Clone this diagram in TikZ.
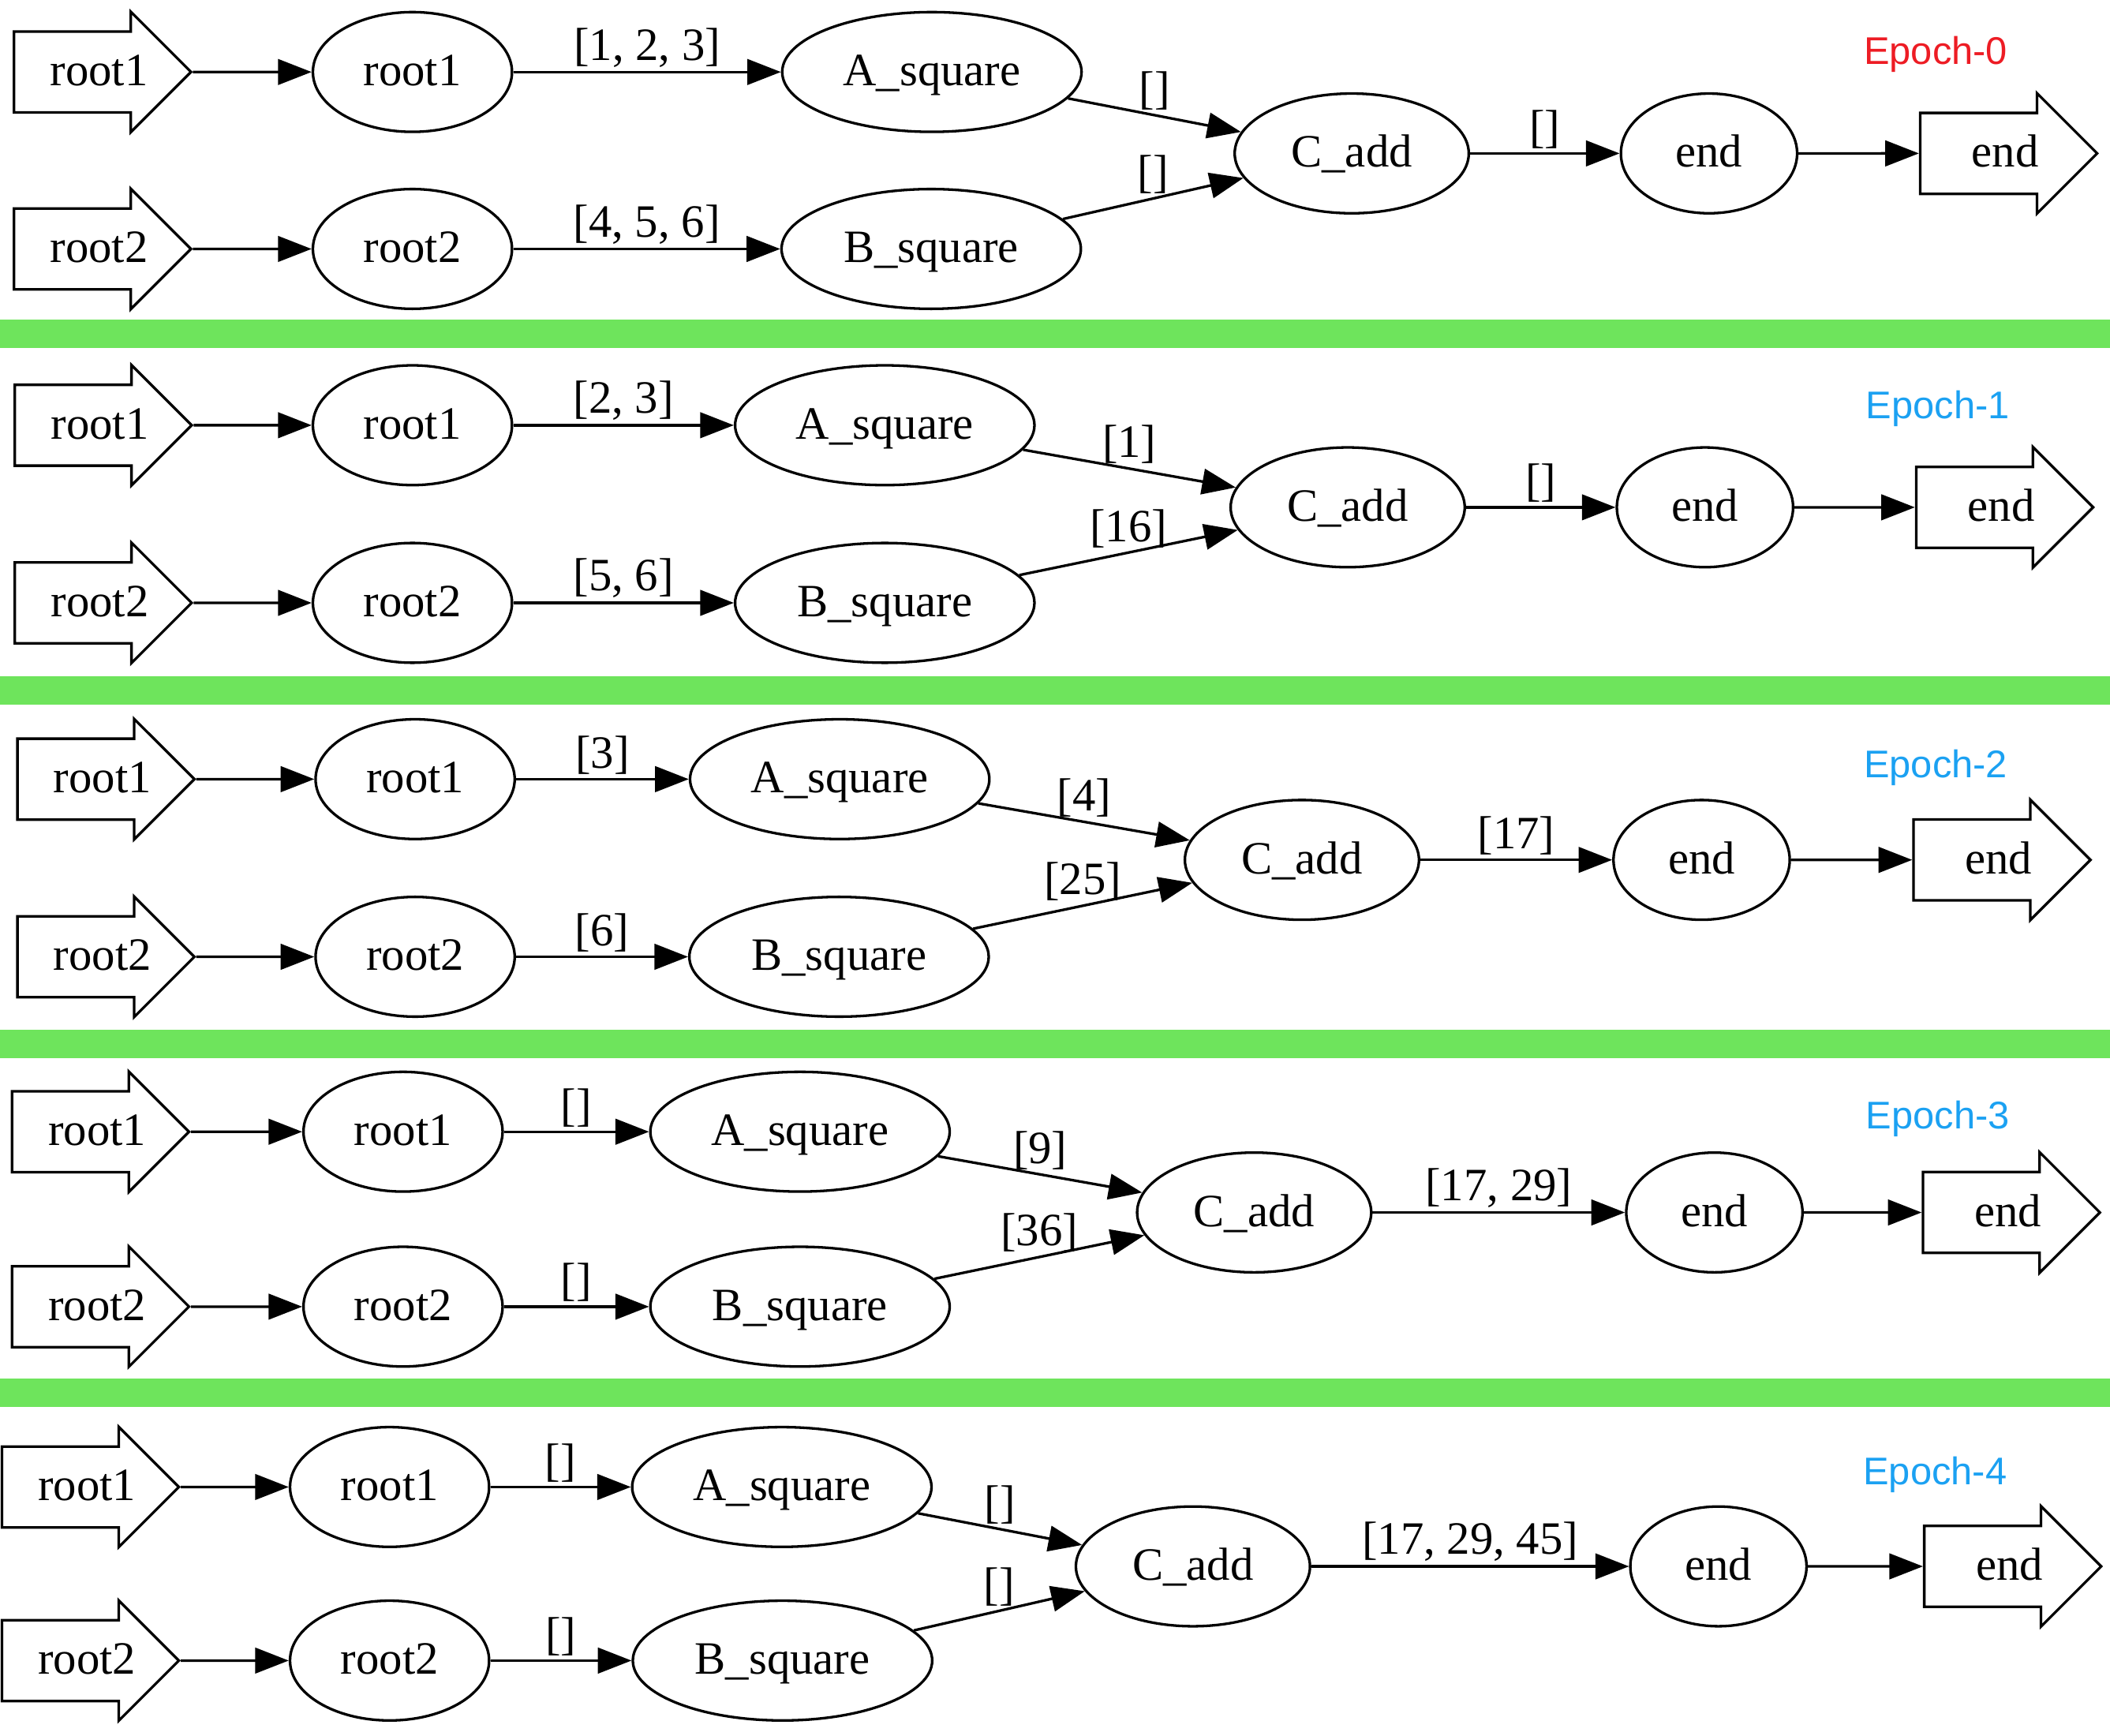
\documentclass[tikz,border=0pt]{standalone}
\usepackage{fontspec}
\setmainfont{Liberation Serif}
\newfontfamily\epochfont{Liberation Sans}
\usetikzlibrary{shapes.geometric}
\usetikzlibrary{shapes.arrows}
\usetikzlibrary{arrows.meta}
\definecolor{sepgreen}{RGB}{110,228,92}
\definecolor{epochred}{RGB}{237,28,36}
\definecolor{epochblue}{RGB}{27,161,242}
\newcommand{\graphfont}{\fontsize{19.6}{23}\selectfont}
\newcommand{\epochsize}{\fontsize{16.3}{19}\selectfont}

\begin{document}
\begin{tikzpicture}[x=0.02cm, y=-0.02cm,
    inout/.style={draw, single arrow, single arrow head extend=0.178cm, minimum height=2.63cm, minimum width=1.79cm, inner sep=0pt, anchor=tail, line width=1.1pt, font=\graphfont, text height=0.55cm, text depth=0.14cm, execute at begin node={\hspace*{0.5cm}}},
    op/.style={draw, ellipse, inner sep=0pt, minimum height=1.78cm, line width=1.1pt, font=\graphfont, text height=0.55cm, text depth=0.14cm},
    rootop/.style={op, minimum width=2.96cm},
    sqop/.style={op, minimum width=4.45cm},
    addop/.style={op, minimum width=3.48cm},
    endop/.style={op, minimum width=2.62cm},
    flow/.style={-{Triangle[length=0.5cm,width=0.38cm]}, line width=1.1pt},
    lbl/.style={above, inner sep=1.5pt, font=\graphfont},
    epoch/.style={anchor=base, inner sep=0pt, font=\epochfont\epochsize},
    sep/.style={draw=sepgreen, line width=0.42cm}]
            \useasboundingbox (0,0) rectangle (1568,1290);
            % green separators between the epochs
            \draw[sep] (0,248) -- (1568,248);
            \draw[sep] (0,513) -- (1568,513);
            \draw[sep] (0,776) -- (1568,776);
            \draw[sep] (0,1035) -- (1568,1035);

            % Epoch 0
            \node[inout] (in1-0) at (9.5,53.5) {root1};
            \node[inout] (in2-0) at (9.5,185) {root2};
            \node[rootop] (root1-0) at (306.5,53.5) {root1};
            \node[rootop] (root2-0) at (306.5,185) {root2};
            \node[sqop] (asq-0) at (692.5,53.5) {A\_square};
            \node[sqop] (bsq-0) at (692,185) {B\_square};
            \node[addop] (cadd-0) at (1004.5,114) {C\_add};
            \node[endop] (end-0) at (1270,114) {end};
            \node[inout] (out-0) at (1426,114) {end};
            \node[epoch, text=epochred] (ep-0) at (1438.5,48) {Epoch-0};
            \draw[flow] (in1-0) -- (root1-0);
            \draw[flow] (in2-0) -- (root2-0);
            \draw[flow] (root1-0) -- node[lbl] {[1, 2, 3]} (asq-0);
            \draw[flow] (root2-0) -- node[lbl] {[4, 5, 6]} (bsq-0);
            \draw[flow] (asq-0) -- node[lbl] {[]} (cadd-0);
            \draw[flow] (bsq-0) -- node[lbl] {[]} (cadd-0);
            \draw[flow] (cadd-0) -- node[lbl] {[]} (end-0);
            \draw[flow] (end-0) -- (out-0);

            % Epoch 1
            \node[inout] (in1-1) at (10,316) {root1};
            \node[inout] (in2-1) at (10,448) {root2};
            \node[rootop] (root1-1) at (306.5,316) {root1};
            \node[rootop] (root2-1) at (306.5,448) {root2};
            \node[sqop] (asq-1) at (657.5,316) {A\_square};
            \node[sqop] (bsq-1) at (657.5,448) {B\_square};
            \node[addop] (cadd-1) at (1001.5,377) {C\_add};
            \node[endop] (end-1) at (1267,377) {end};
            \node[inout] (out-1) at (1423,377) {end};
            \node[epoch, text=epochblue] (ep-1) at (1440,311) {Epoch-1};
            \draw[flow] (in1-1) -- (root1-1);
            \draw[flow] (in2-1) -- (root2-1);
            \draw[flow] (root1-1) -- node[lbl] {[2, 3]} (asq-1);
            \draw[flow] (root2-1) -- node[lbl] {[5, 6]} (bsq-1);
            \draw[flow] (asq-1) -- node[lbl] {[1]} (cadd-1);
            \draw[flow] (bsq-1) -- node[lbl] {[16]} (cadd-1);
            \draw[flow] (cadd-1) -- node[lbl] {[]} (end-1);
            \draw[flow] (end-1) -- (out-1);

            % Epoch 2
            \node[inout] (in1-2) at (12,579) {root1};
            \node[inout] (in2-2) at (12,711) {root2};
            \node[rootop] (root1-2) at (308.5,579) {root1};
            \node[rootop] (root2-2) at (308.5,711) {root2};
            \node[sqop] (asq-2) at (624,579) {A\_square};
            \node[sqop] (bsq-2) at (623.5,711) {B\_square};
            \node[addop] (cadd-2) at (967.5,639) {C\_add};
            \node[endop] (end-2) at (1264.5,639) {end};
            \node[inout] (out-2) at (1421,639) {end};
            \node[epoch, text=epochblue] (ep-2) at (1438.5,578) {Epoch-2};
            \draw[flow] (in1-2) -- (root1-2);
            \draw[flow] (in2-2) -- (root2-2);
            \draw[flow] (root1-2) -- node[lbl] {[3]} (asq-2);
            \draw[flow] (root2-2) -- node[lbl] {[6]} (bsq-2);
            \draw[flow] (asq-2) -- node[lbl] {[4]} (cadd-2);
            \draw[flow] (bsq-2) -- node[lbl] {[25]} (cadd-2);
            \draw[flow] (cadd-2) -- node[lbl] {[17]} (end-2);
            \draw[flow] (end-2) -- (out-2);

            % Epoch 3
            \node[inout] (in1-3) at (8,841) {root1};
            \node[inout] (in2-3) at (8,971) {root2};
            \node[rootop] (root1-3) at (299.5,841) {root1};
            \node[rootop] (root2-3) at (299.5,971) {root2};
            \node[sqop] (asq-3) at (594.5,841) {A\_square};
            \node[sqop] (bsq-3) at (594.5,971) {B\_square};
            \node[addop] (cadd-3) at (932,901) {C\_add};
            \node[endop] (end-3) at (1274,901) {end};
            \node[inout] (out-3) at (1428,901) {end};
            \node[epoch, text=epochblue] (ep-3) at (1440,839) {Epoch-3};
            \draw[flow] (in1-3) -- (root1-3);
            \draw[flow] (in2-3) -- (root2-3);
            \draw[flow] (root1-3) -- node[lbl] {[]} (asq-3);
            \draw[flow] (root2-3) -- node[lbl] {[]} (bsq-3);
            \draw[flow] (asq-3) -- node[lbl] {[9]} (cadd-3);
            \draw[flow] (bsq-3) -- node[lbl] {[36]} (cadd-3);
            \draw[flow] (cadd-3) -- node[lbl] {[17, 29]} (end-3);
            \draw[flow] (end-3) -- (out-3);

            % Epoch 4
            \node[inout] (in1-4) at (0.5,1105) {root1};
            \node[inout] (in2-4) at (0.5,1234) {root2};
            \node[rootop] (root1-4) at (289.5,1105) {root1};
            \node[rootop] (root2-4) at (289.5,1234) {root2};
            \node[sqop] (asq-4) at (581,1105) {A\_square};
            \node[sqop] (bsq-4) at (581.5,1234) {B\_square};
            \node[addop] (cadd-4) at (886.5,1164) {C\_add};
            \node[endop] (end-4) at (1277,1164) {end};
            \node[inout] (out-4) at (1429,1164) {end};
            \node[epoch, text=epochblue] (ep-4) at (1438,1103) {Epoch-4};
            \draw[flow] (in1-4) -- (root1-4);
            \draw[flow] (in2-4) -- (root2-4);
            \draw[flow] (root1-4) -- node[lbl] {[]} (asq-4);
            \draw[flow] (root2-4) -- node[lbl] {[]} (bsq-4);
            \draw[flow] (asq-4) -- node[lbl] {[]} (cadd-4);
            \draw[flow] (bsq-4) -- node[lbl] {[]} (cadd-4);
            \draw[flow] (cadd-4) -- node[lbl] {[17, 29, 45]} (end-4);
            \draw[flow] (end-4) -- (out-4);
        \end{tikzpicture}
\end{document}
